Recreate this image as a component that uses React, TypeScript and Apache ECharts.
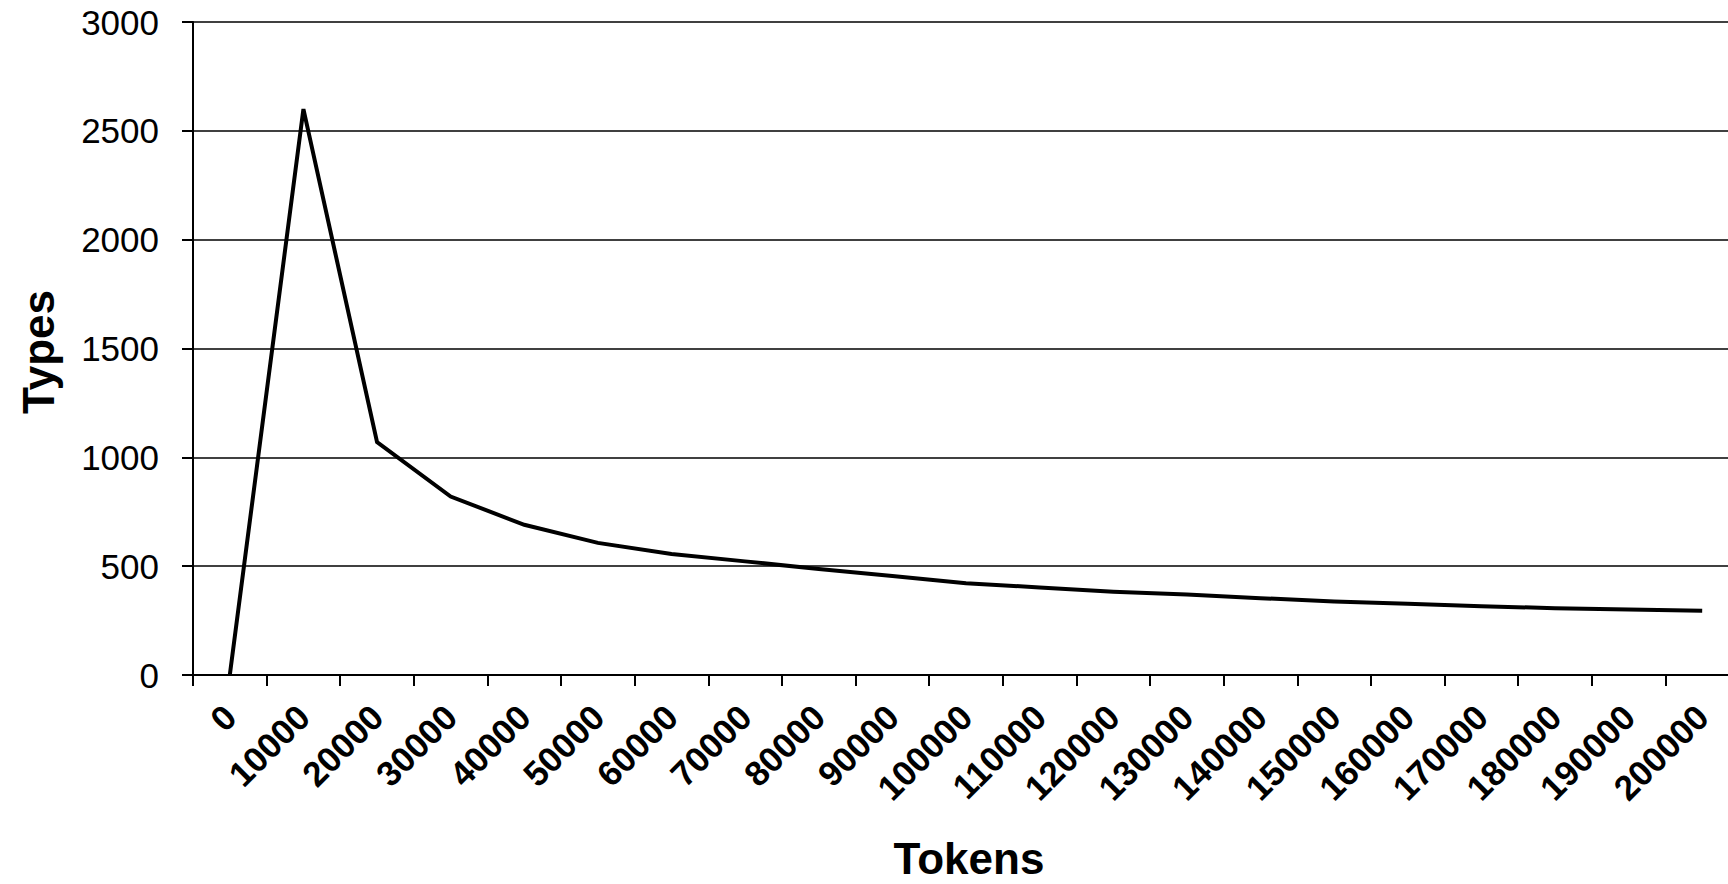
import React, { useEffect, useRef } from "react";
import * as echarts from "echarts";

const categories = [
  "0", "10000", "20000", "30000", "40000", "50000", "60000", "70000",
  "80000", "90000", "100000", "110000", "120000", "130000", "140000",
  "150000", "160000", "170000", "180000", "190000", "200000",
];

const typesValues = [
  0, 2600, 1070, 820, 690, 607, 556, 522, 487, 455, 422, 402, 383, 370,
  353, 338, 327, 316, 307, 301, 295,
];

const yTicks = { min: 0, max: 3000, interval: 500 };

const xTitle = "Tokens";
const yTitle = "Types";

const FONT = '"Liberation Sans", Arial, Helvetica, sans-serif';

export default function App() {
  const ref = useRef<HTMLDivElement>(null);

  useEffect(() => {
    if (!ref.current) return;
    const chart = echarts.init(ref.current, undefined, { renderer: "svg" });
    chart.setOption({
      animation: false,
      backgroundColor: "#ffffff",
      grid: { left: 193, right: 0, top: 22, bottom: 209, containLabel: false },
      xAxis: {
        type: "category",
        data: categories,
        boundaryGap: true,
        axisLine: { show: true, lineStyle: { color: "#000", width: 2 } },
        axisTick: {
          show: true,
          alignWithLabel: false,
          length: 11,
          lineStyle: { color: "#000", width: 2 },
        },
        axisLabel: {
          interval: 0,
          rotate: 45,
          margin: 36,
          color: "#000",
          fontFamily: FONT,
          fontWeight: "bold",
          fontSize: 35,
        },
        splitLine: { show: false },
      },
      yAxis: {
        type: "value",
        min: yTicks.min,
        max: yTicks.max,
        interval: yTicks.interval,
        axisLine: { show: true, lineStyle: { color: "#000", width: 2 } },
        axisTick: { show: true, length: 11, lineStyle: { color: "#000", width: 2 } },
        axisLabel: {
          margin: 34,
          color: "#000",
          fontFamily: FONT,
          fontSize: 35,
          formatter: (v: number) => String(v),
        },
        splitLine: { show: true, lineStyle: { color: "#000", width: 1.5 } },
      },
      graphic: [
        {
          type: "text",
          x: 969,
          y: 858,
          style: {
            text: xTitle,
            fill: "#000",
            font: `bold 44px ${FONT}`,
            align: "center",
            verticalAlign: "middle",
          },
        },
        {
          type: "text",
          x: 38,
          y: 352,
          rotation: Math.PI / 2,
          style: {
            text: yTitle,
            fill: "#000",
            font: `bold 44px ${FONT}`,
            align: "center",
            verticalAlign: "middle",
          },
        },
      ],
      series: [
        {
          type: "line",
          data: typesValues,
          symbol: "none",
          lineStyle: { color: "#000", width: 4, join: "miter" },
          z: 5,
        },
      ],
    });
    return () => chart.dispose();
  }, []);

  return (
    <div
      ref={ref}
      style={{ position: "fixed", left: 0, top: 0, width: 1739, height: 884 }}
    />
  );
}
